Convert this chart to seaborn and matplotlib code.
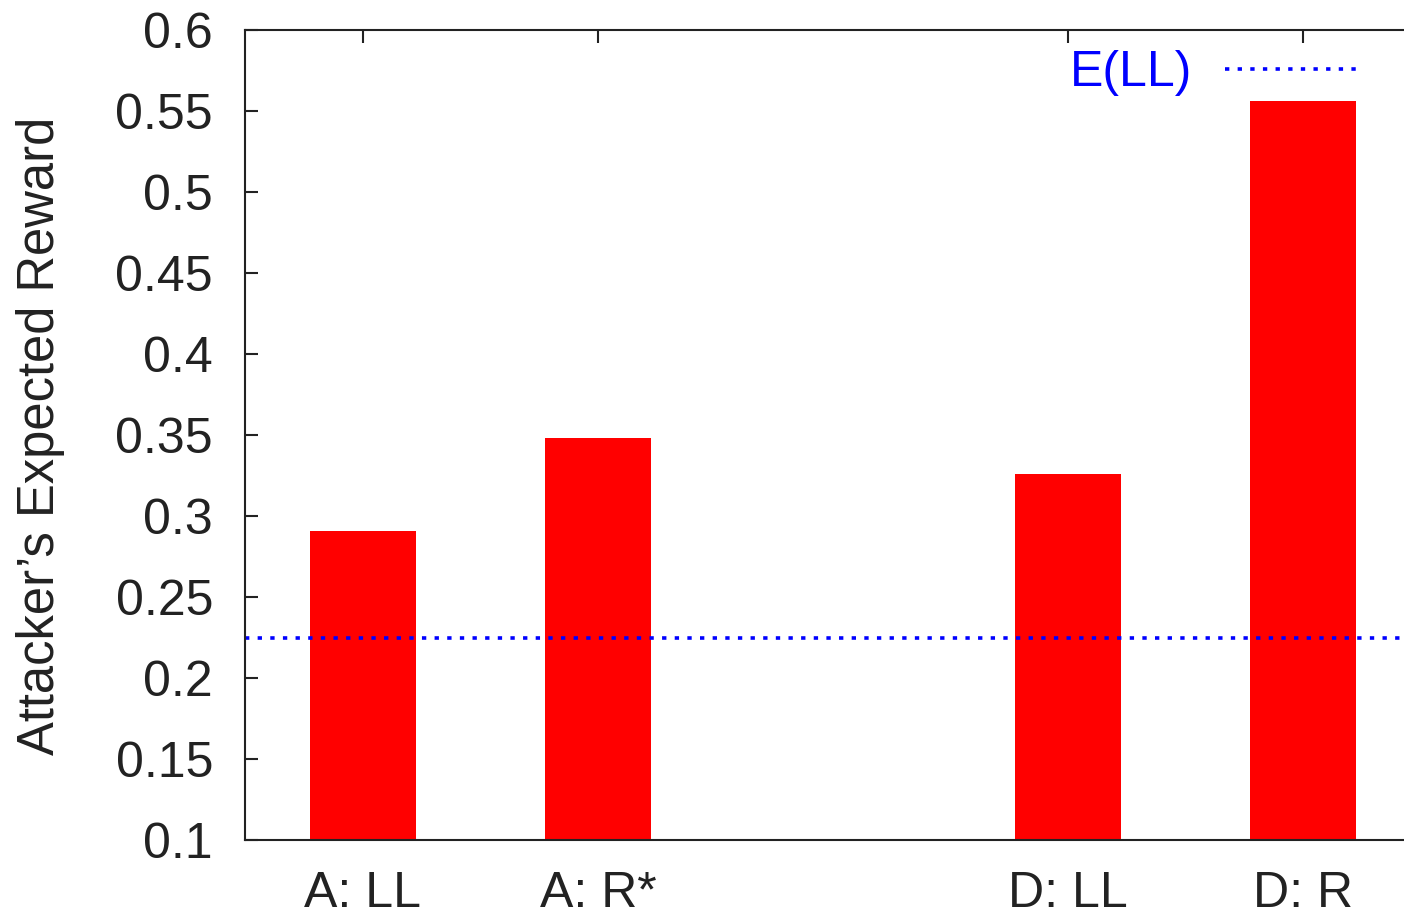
import seaborn as sns
import matplotlib.pyplot as plt
from matplotlib.lines import Line2D

# values
labels = ["A: LL", "A: R*", "D: LL", "D: R"]
positions = [0, 1, 3, 4]
rewards = [0.291, 0.348, 0.326, 0.556]
expected_ll = 0.225

sns.set_style("white")
plt.rcParams['font.family'] = ['Liberation Sans', 'DejaVu Sans']
plt.rcParams['font.size'] = 36

fig = plt.figure(figsize=(14.04, 9.15), dpi=100)
ax = fig.add_axes([245 / 1404, 75 / 915, 1 - 245 / 1404, 810 / 915])

sns.barplot(x=positions, y=rewards, native_scale=True, width=0.45,
            color="#ff0000", saturation=1, linewidth=0, ax=ax)

dotted = (0, (1.2, 2.3))
ax.axhline(expected_ll, color="#0000ff", lw=2.6, linestyle=dotted)

ax.set_xlim(-0.502, 4.43)
ax.set_ylim(0.1, 0.6)
ax.set_xticks(positions, labels)
ax.set_yticks([0.1, 0.15, 0.2, 0.25, 0.3, 0.35, 0.4, 0.45, 0.5, 0.55, 0.6],
              ["0.1", "0.15", "0.2", "0.25", "0.3", "0.35", "0.4", "0.45", "0.5", "0.55", "0.6"])
ax.tick_params(axis="x", bottom=False, top=True, labelbottom=True, direction="in",
               length=9.5, width=1.5, color="#222222", pad=22, labelsize=36, labelcolor="#222222")
ax.tick_params(axis="y", left=True, right=False, direction="in",
               length=9.5, width=1.5, color="#222222", pad=23, labelsize=36, labelcolor="#222222")

for side in ["left", "top", "bottom"]:
    ax.spines[side].set_color("#222222")
    ax.spines[side].set_linewidth(1.5)
ax.spines["right"].set_visible(False)

ax.set_ylabel("Attacker\u2019s Expected Reward", fontsize=36.5, color="#222222")
ax.yaxis.set_label_coords(-0.155, 0.499)
ax.set_xlabel("")

handle = Line2D([], [], color="#0000ff", lw=2.6, linestyle=dotted)
fig.legend([handle], ["E(LL)"], loc="center right", bbox_to_anchor=(1360 / 1404, (915 - 73) / 915),
           frameon=False, markerfirst=False, handlelength=2.7, handletextpad=0.66,
           borderpad=0, borderaxespad=0, labelcolor="#0000ff", fontsize=36)

fig.savefig("out.png", dpi=100)
